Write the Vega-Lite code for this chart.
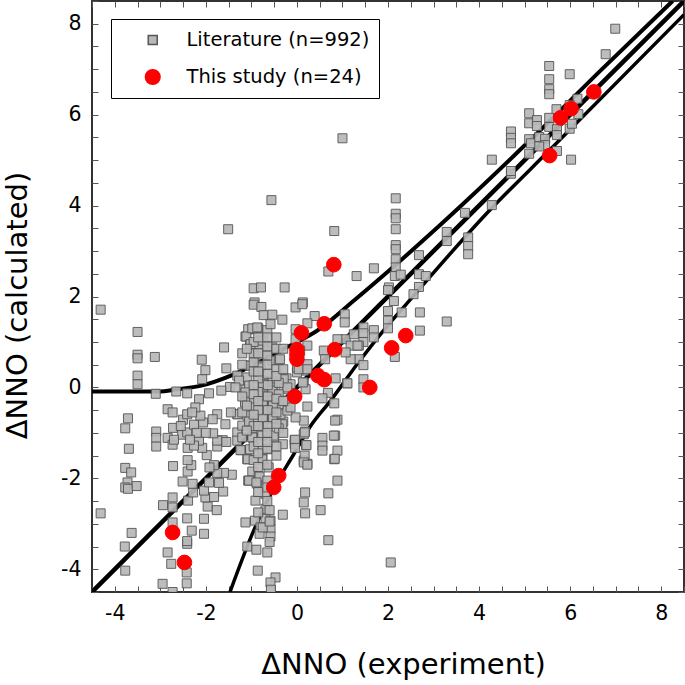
{"$schema":"https://vega.github.io/schema/vega-lite/v6.json","autosize":{"type":"none"},"padding":{"left":92,"top":1,"right":1,"bottom":93},"width":592,"height":591,"background":"white","config":{"view":{"stroke":"#333","strokeWidth":2},"font":"DejaVu Sans"},"layer":[{"data":{"values":[{"x":-4.5,"y":-4.5,"c":"1:1"},{"x":8.5,"y":8.5,"c":"1:1"},{"x":-4.5,"y":-0.09,"c":"up"},{"x":-3,"y":-0.09,"c":"up"},{"x":-2.7,"y":-0.05,"c":"up"},{"x":-2.1,"y":0.04,"c":"up"},{"x":-1.45,"y":0.26,"c":"up"},{"x":-0.9,"y":0.52,"c":"up"},{"x":-0.36,"y":0.81,"c":"up"},{"x":0.52,"y":1.3,"c":"up"},{"x":1.24,"y":1.9,"c":"up"},{"x":2.0,"y":2.55,"c":"up"},{"x":3.0,"y":3.44,"c":"up"},{"x":3.77,"y":4.15,"c":"up"},{"x":5.1,"y":5.42,"c":"up"},{"x":6.7,"y":7.0,"c":"up"},{"x":8.25,"y":8.5,"c":"up"},{"x":-1.47,"y":-4.5,"c":"lo"},{"x":-0.95,"y":-3.15,"c":"lo"},{"x":-0.5,"y":-2.2,"c":"lo"},{"x":-0.07,"y":-1.47,"c":"lo"},{"x":0.3,"y":-0.85,"c":"lo"},{"x":0.74,"y":-0.29,"c":"lo"},{"x":1.33,"y":0.52,"c":"lo"},{"x":1.9,"y":1.25,"c":"lo"},{"x":2.46,"y":1.9,"c":"lo"},{"x":4.15,"y":3.81,"c":"lo"},{"x":5.6,"y":5.27,"c":"lo"},{"x":8.5,"y":8.2,"c":"lo"}]},"mark":{"type":"line","color":"black","clip":true,"strokeCap":"butt","interpolate":"monotone"},"encoding":{"x":{"field":"x","type":"quantitative","scale":{"domain":[-4.5,8.5],"nice":false,"zero":false},"axis":{"orient":"top","title":null,"labels":false,"domain":false,"grid":false,"values":[-4.5,-4,-3.5,-3,-2.5,-2,-1.5,-1,-0.5,0,0.5,1,1.5,2,2.5,3,3.5,4,4.5,5,5.5,6,6.5,7,7.5,8,8.5],"tickSize":-6,"tickColor":"#555","tickWidth":1}},"y":{"field":"y","type":"quantitative","scale":{"domain":[-4.5,8.5],"nice":false,"zero":false},"axis":{"orient":"right","title":null,"labels":false,"domain":false,"grid":false,"values":[-4.5,-4,-3.5,-3,-2.5,-2,-1.5,-1,-0.5,0,0.5,1,1.5,2,2.5,3,3.5,4,4.5,5,5.5,6,6.5,7,7.5,8,8.5],"tickSize":-6,"tickColor":"#555","tickWidth":1}},"strokeWidth":{"field":"c","type":"nominal","scale":{"domain":["1:1","up","lo"],"range":[4.5,3.5,3.5]},"legend":null},"detail":{"field":"c"}}},{"data":{"values":[{"x":1.0,"y":5.48},{"x":-0.56,"y":4.12},{"x":-1.51,"y":3.48},{"x":0.82,"y":3.44},{"x":0.69,"y":2.55},{"x":1.69,"y":2.62},{"x":1.31,"y":2.45},{"x":-0.95,"y":2.18},{"x":-0.79,"y":2.2},{"x":-0.27,"y":2.2},{"x":0.13,"y":1.87},{"x":-0.93,"y":1.87},{"x":2.17,"y":4.16},{"x":2.17,"y":3.82},{"x":2.17,"y":3.72},{"x":2.17,"y":3.48},{"x":2.17,"y":3.13},{"x":2.17,"y":3.04},{"x":2.17,"y":2.82},{"x":2.17,"y":2.64},{"x":2.15,"y":2.45},{"x":2.28,"y":2.48},{"x":2.68,"y":2.91},{"x":2.68,"y":2.49},{"x":2.83,"y":2.45},{"x":2.68,"y":2.21},{"x":2.56,"y":2.05},{"x":2.02,"y":2.2},{"x":2.13,"y":1.9},{"x":2.0,"y":2.14},{"x":2.0,"y":1.68},{"x":2.0,"y":1.47},{"x":2.0,"y":1.3},{"x":2.3,"y":1.65},{"x":2.7,"y":1.65},{"x":2.7,"y":1.25},{"x":3.29,"y":1.45},{"x":1.69,"y":1.26},{"x":1.69,"y":1.1},{"x":1.46,"y":1.32},{"x":1.46,"y":1.19},{"x":1.46,"y":1.0},{"x":1.05,"y":1.61},{"x":1.05,"y":1.43},{"x":1.07,"y":1.06},{"x":1.18,"y":0.92},{"x":1.36,"y":0.92},{"x":1.36,"y":0.62},{"x":1.18,"y":0.62},{"x":1.46,"y":0.49},{"x":1.07,"y":0.77},{"x":2.15,"y":0.67},{"x":1.46,"y":0.18},{"x":1.46,"y":0.0},{"x":1.1,"y":0.09},{"x":6.99,"y":7.89},{"x":6.78,"y":7.33},{"x":5.99,"y":6.89},{"x":5.54,"y":7.07},{"x":5.54,"y":6.78},{"x":5.54,"y":6.56},{"x":5.54,"y":6.45},{"x":6.16,"y":6.35},{"x":6.18,"y":6.01},{"x":5.7,"y":6.12},{"x":5.99,"y":6.21},{"x":5.1,"y":6.03},{"x":5.1,"y":5.81},{"x":5.27,"y":5.88},{"x":5.27,"y":5.75},{"x":5.54,"y":5.93},{"x":5.54,"y":5.73},{"x":5.71,"y":5.68},{"x":5.71,"y":5.55},{"x":5.99,"y":5.69},{"x":6.04,"y":5.8},{"x":4.7,"y":5.63},{"x":4.7,"y":5.49},{"x":4.7,"y":5.37},{"x":5.1,"y":5.46},{"x":5.14,"y":5.37},{"x":5.1,"y":5.14},{"x":5.32,"y":5.51},{"x":5.45,"y":5.47},{"x":5.45,"y":5.33},{"x":5.32,"y":5.3},{"x":5.71,"y":5.2},{"x":6.02,"y":5.01},{"x":4.28,"y":5.01},{"x":4.7,"y":4.7},{"x":4.7,"y":4.76},{"x":3.69,"y":3.84},{"x":4.28,"y":4.01},{"x":3.29,"y":3.42},{"x":3.29,"y":3.22},{"x":3.76,"y":3.3},{"x":3.76,"y":3.11},{"x":3.76,"y":2.93},{"x":-4.31,"y":1.71},{"x":-3.5,"y":1.22},{"x":-3.5,"y":0.72},{"x":-3.5,"y":0.64},{"x":-3.12,"y":0.67},{"x":-3.5,"y":0.26},{"x":-3.5,"y":0.07},{"x":-3.1,"y":-0.14},{"x":-2.65,"y":-0.09},{"x":-2.41,"y":-0.13},{"x":-2.84,"y":-0.48},{"x":-2.73,"y":-0.55},{"x":-3.71,"y":-0.68},{"x":-3.77,"y":-0.9},{"x":-3.09,"y":-0.97},{"x":-3.09,"y":-1.11},{"x":-3.09,"y":-1.3},{"x":-2.84,"y":-1.11},{"x":-2.73,"y":-1.26},{"x":-3.69,"y":-1.35},{"x":-3.77,"y":-1.77},{"x":-3.64,"y":-1.87},{"x":-3.72,"y":-2.09},{"x":-3.77,"y":-2.2},{"x":-3.71,"y":-2.23},{"x":-3.52,"y":-2.17},{"x":-4.31,"y":-2.77},{"x":-3.63,"y":-3.2},{"x":-3.78,"y":-3.5},{"x":-3.77,"y":-4.03},{"x":-2.95,"y":-4.32},{"x":-2.73,"y":-4.5},{"x":-2.42,"y":-4.31},{"x":-2.42,"y":-4.07},{"x":-2.76,"y":-3.88},{"x":-2.84,"y":-3.63},{"x":-2.41,"y":-3.44},{"x":-2.41,"y":-3.38},{"x":-2.04,"y":-3.22},{"x":-2.31,"y":-3.15},{"x":-2.73,"y":-2.97},{"x":-2.41,"y":-2.88},{"x":-2.04,"y":-2.89},{"x":-2.94,"y":-2.59},{"x":-2.73,"y":-2.64},{"x":-2.73,"y":-2.42},{"x":-2.39,"y":-2.49},{"x":-1.96,"y":-2.62},{"x":-1.76,"y":-2.7},{"x":-2.01,"y":-2.42},{"x":-1.82,"y":-2.41},{"x":-1.62,"y":-2.29},{"x":-2.28,"y":-2.31},{"x":-2.04,"y":-2.27},{"x":-2.51,"y":-2.07},{"x":-2.29,"y":-2.12},{"x":-1.93,"y":-2.09},{"x":-1.71,"y":-2.1},{"x":-1.43,"y":-1.92},{"x":-1.6,"y":-1.88},{"x":-1.75,"y":-1.88},{"x":-1.82,"y":-1.71},{"x":-1.92,"y":-1.76},{"x":-2.72,"y":-1.73},{"x":-2.4,"y":-1.85},{"x":-2.32,"y":-1.71},{"x":-2.4,"y":-1.6},{"x":-1.98,"y":-1.49},{"x":-2.4,"y":-1.33},{"x":-2.08,"y":-1.33},{"x":-1.75,"y":-1.3},{"x":-1.63,"y":-1.16},{"x":-1.75,"y":-1.17},{"x":-1.84,"y":-1.01},{"x":-2.15,"y":-1.17},{"x":-2.26,"y":-1.28},{"x":-2.52,"y":-1.04},{"x":-2.41,"y":-0.99},{"x":-2.72,"y":-0.89},{"x":-2.5,"y":-0.71},{"x":-2.41,"y":-0.59},{"x":-2.26,"y":-0.82},{"x":-2.06,"y":-0.77},{"x":-2.12,"y":-0.62},{"x":-1.75,"y":-0.59},{"x":-1.57,"y":-0.81},{"x":-1.31,"y":-0.59},{"x":-1.31,"y":-0.99},{"x":-1.31,"y":-1.17},{"x":-1.22,"y":-1.38},{"x":-1.03,"y":-1.36},{"x":-1.09,"y":-1.58},{"x":-0.98,"y":-1.85},{"x":-1.07,"y":-2.05},{"x":-0.84,"y":-1.96},{"x":-0.87,"y":-2.12},{"x":-0.62,"y":-1.76},{"x":-0.65,"y":-1.36},{"x":-0.76,"y":-1.58},{"x":-0.91,"y":-2.49},{"x":-0.69,"y":-2.34},{"x":-0.69,"y":-2.67},{"x":-0.69,"y":-2.89},{"x":-1.13,"y":-2.97},{"x":-0.92,"y":-2.93},{"x":-0.8,"y":-3.08},{"x":-0.58,"y":-3.11},{"x":-0.82,"y":-3.22},{"x":-0.58,"y":-3.28},{"x":-1.09,"y":-3.5},{"x":-0.89,"y":-3.57},{"x":-0.65,"y":-3.63},{"x":-0.86,"y":-4.03},{"x":-0.47,"y":-4.18},{"x":-0.58,"y":-4.29},{"x":-0.57,"y":-4.45},{"x":-0.31,"y":-2.8},{"x":0.18,"y":-2.31},{"x":0.15,"y":-2.53},{"x":0.18,"y":-2.77},{"x":0.69,"y":-2.33},{"x":0.52,"y":-2.7},{"x":0.69,"y":-3.36},{"x":0.89,"y":-2.05},{"x":0.23,"y":-1.68},{"x":0.15,"y":-1.61},{"x":0.2,"y":-1.27},{"x":-0.05,"y":-1.25},{"x":-0.05,"y":-1.16},{"x":-0.31,"y":-1.25},{"x":0.15,"y":-1.03},{"x":0.18,"y":-0.97},{"x":0.15,"y":-0.73},{"x":-0.03,"y":-0.66},{"x":0.23,"y":-0.42},{"x":0.56,"y":-1.11},{"x":0.56,"y":-1.28},{"x":0.56,"y":-1.39},{"x":0.84,"y":-1.06},{"x":0.82,"y":-1.58},{"x":0.89,"y":-1.39},{"x":0.89,"y":-0.71},{"x":0.84,"y":-0.73},{"x":0.82,"y":-0.35},{"x":0.68,"y":-0.12},{"x":0.56,"y":-0.24},{"x":1.11,"y":0.09},{"x":0.85,"y":0.2},{"x":2.06,"y":-3.85},{"x":-0.74,"y":0.15},{"x":-0.74,"y":0.04},{"x":-0.74,"y":-0.07},{"x":-0.74,"y":-0.18},{"x":-0.74,"y":-0.29},{"x":-0.74,"y":-0.4},{"x":-0.74,"y":-0.55},{"x":-0.74,"y":-0.7},{"x":-0.74,"y":-0.84},{"x":-0.53,"y":0.15},{"x":-0.53,"y":0.0},{"x":-0.53,"y":-0.15},{"x":-0.53,"y":-0.29},{"x":-0.53,"y":-0.44},{"x":-0.53,"y":-0.69},{"x":-1.03,"y":0.48},{"x":-1.13,"y":-0.04},{"x":-1.09,"y":0.22},{"x":-1.31,"y":0.26},{"x":-1.55,"y":0.42},{"x":-1.47,"y":0.01},{"x":-1.66,"y":-0.07},{"x":-1.93,"y":-0.13},{"x":-2.15,"y":-0.26},{"x":-2.23,"y":-0.44},{"x":-2.01,"y":0.38},{"x":-2.09,"y":0.61},{"x":-2.08,"y":0.18},{"x":-1.6,"y":0.88},{"x":-1.13,"y":1.12},{"x":-0.95,"y":1.28},{"x":-0.85,"y":1.3},{"x":-0.95,"y":1.82},{"x":-0.78,"y":1.77},{"x":-0.73,"y":1.59},{"x":-0.54,"y":1.6},{"x":-0.32,"y":1.49},{"x":-0.65,"y":1.26},{"x":-0.58,"y":1.39},{"x":-0.89,"y":1.3},{"x":-1.07,"y":1.28},{"x":-0.74,"y":1.03},{"x":-1.03,"y":0.95},{"x":-0.84,"y":0.95},{"x":-0.54,"y":0.88},{"x":-0.91,"y":0.7},{"x":-0.65,"y":0.8},{"x":-0.54,"y":0.59},{"x":-0.8,"y":0.48},{"x":-0.4,"y":0.6},{"x":-0.23,"y":0.2},{"x":-0.29,"y":-0.04},{"x":-0.95,"y":-0.33},{"x":-1.14,"y":-0.33},{"x":-0.95,"y":-0.44},{"x":-1.2,"y":-0.84},{"x":-1.09,"y":-0.62},{"x":-0.98,"y":-0.92},{"x":-0.87,"y":-0.73},{"x":-0.97,"y":-1.1},{"x":-0.76,"y":-1.06},{"x":-0.5,"y":-1.1},{"x":-0.3,"y":-0.75},{"x":-0.36,"y":-0.59},{"x":-0.21,"y":-0.51},{"x":-0.03,"y":1.76},{"x":0.12,"y":1.83},{"x":0.39,"y":1.57},{"x":0.23,"y":1.41},{"x":-0.03,"y":1.28},{"x":0.89,"y":1.06},{"x":1.25,"y":1.17},{"x":1.33,"y":0.92},{"x":0.59,"y":0.81},{"x":0.62,"y":0.62},{"x":0.23,"y":0.92},{"x":-0.03,"y":1.06},{"x":0.07,"y":0.81},{"x":0.15,"y":0.37},{"x":0.23,"y":0.51},{"x":0.15,"y":0.11},{"x":0.19,"y":-0.04},{"x":-0.14,"y":0.07},{"x":-0.25,"y":-0.29},{"x":-0.14,"y":-0.44},{"x":-0.4,"y":-0.37},{"x":-0.32,"y":-0.81},{"x":0.0,"y":0.33},{"x":0.0,"y":0.44},{"x":-1.3,"y":-0.59},{"x":-1.24,"y":-1.38},{"x":-0.98,"y":-1.1},{"x":-1.08,"y":-1.58},{"x":-0.76,"y":-1.39},{"x":-0.65,"y":-1.35},{"x":-0.76,"y":-1.58},{"x":-0.82,"y":-1.96},{"x":-1.05,"y":-2.05},{"x":-0.89,"y":-2.09},{"x":-0.75,"y":-3.08},{"x":-0.58,"y":-2.93},{"x":-0.75,"y":-0.37},{"x":-0.75,"y":-0.51},{"x":-0.75,"y":-0.67},{"x":-0.53,"y":-0.4},{"x":-0.53,"y":-0.67},{"x":-0.51,"y":-1.06},{"x":0.17,"y":-0.99},{"x":-0.04,"y":-1.15},{"x":-0.04,"y":-1.33},{"x":0.21,"y":-1.27},{"x":0.17,"y":-1.5},{"x":0.15,"y":-1.65},{"x":0.23,"y":-1.7},{"x":0.81,"y":-1.06},{"x":0.83,"y":-1.57},{"x":-1.11,"y":1.12},{"x":-0.98,"y":1.3},{"x":-0.87,"y":1.32},{"x":-1.02,"y":0.95},{"x":-0.8,"y":1.03},{"x":-1.04,"y":0.48},{"x":-0.8,"y":0.44},{"x":-0.37,"y":0.62},{"x":0.04,"y":0.4},{"x":0.23,"y":0.4},{"x":0.13,"y":0.11},{"x":-1.05,"y":0.04},{"x":-1.27,"y":0.15},{"x":-0.54,"y":-0.07},{"x":-0.75,"y":0.07},{"x":-0.29,"y":0.18},{"x":-0.21,"y":0.0},{"x":-1.13,"y":-0.11},{"x":-1.35,"y":0.0},{"x":-0.64,"y":0.3},{"x":-0.64,"y":0.05},{"x":-0.64,"y":-0.2},{"x":-0.64,"y":-0.5},{"x":-0.64,"y":-0.85},{"x":-0.85,"y":0.2},{"x":-0.85,"y":-0.1},{"x":-0.85,"y":-0.5},{"x":-0.4,"y":0.1},{"x":-0.4,"y":-0.15},{"x":-0.4,"y":-0.9},{"x":-0.45,"y":-1.3},{"x":-0.95,"y":-0.15},{"x":-1.05,"y":-0.75},{"x":-1.45,"y":-0.55},{"x":-1.85,"y":-0.7},{"x":-2.0,"y":-1.0},{"x":-2.3,"y":-0.55},{"x":-2.55,"y":-0.85},{"x":-2.2,"y":-1.0},{"x":-1.55,"y":-1.2},{"x":-2.35,"y":-1.15},{"x":-2.7,"y":-1.15},{"x":-0.95,"y":1.0},{"x":-0.95,"y":0.75},{"x":-0.95,"y":0.55},{"x":-0.95,"y":0.35},{"x":-0.95,"y":0.05},{"x":-0.95,"y":-0.6},{"x":-0.95,"y":-0.85},{"x":-0.95,"y":-1.3},{"x":-0.95,"y":-1.6},{"x":-0.85,"y":1.1},{"x":-0.85,"y":0.75},{"x":-0.85,"y":0.35},{"x":-0.85,"y":-0.3},{"x":-0.85,"y":-0.85},{"x":-0.85,"y":-1.2},{"x":-0.85,"y":-1.45},{"x":-0.85,"y":-1.75},{"x":-0.85,"y":-2.3},{"x":-0.85,"y":-2.75},{"x":-0.65,"y":1.1},{"x":-0.65,"y":0.9},{"x":-0.65,"y":0.7},{"x":-0.65,"y":0.5},{"x":-0.65,"y":-1.0},{"x":-0.65,"y":-1.2},{"x":-0.65,"y":-1.7},{"x":-0.65,"y":-2.05},{"x":-0.65,"y":-2.2},{"x":-0.65,"y":-2.5},{"x":-0.45,"y":1.1},{"x":-0.45,"y":0.85},{"x":-0.45,"y":0.4},{"x":-0.45,"y":0.25},{"x":-0.45,"y":-0.25},{"x":-0.45,"y":-0.55},{"x":-0.45,"y":-0.8},{"x":-0.45,"y":-1.5},{"x":-1.2,"y":0.5},{"x":-1.2,"y":0.75},{"x":-1.2,"y":-0.2},{"x":-1.2,"y":-0.55},{"x":-1.2,"y":-1.1},{"x":-0.3,"y":0.85},{"x":-0.3,"y":0.4},{"x":-0.3,"y":-0.3},{"x":-0.3,"y":-1.0},{"x":-1.1,"y":0.85},{"x":-1.1,"y":-0.4},{"x":-1.1,"y":-0.95},{"x":-0.6,"y":-3.4},{"x":-0.6,"y":-2.7},{"x":-0.6,"y":-2.95}]},"mark":{"type":"point","filled":true,"strokeWidth":1,"opacity":0.92,"clip":true},"encoding":{"x":{"field":"x","type":"quantitative","scale":{"domain":[-4.5,8.5],"nice":false,"zero":false},"axis":{"orient":"bottom","title":"ΔNNO (experiment)","titleFontSize":29,"titleFontWeight":"normal","titleColor":"black","titleX":311,"titleY":58,"labelFontSize":20.5,"labelColor":"black","labelPadding":17,"labelExpr":"datum.value % 2 == 0 ? toString(datum.value) : ''","labelOverlap":false,"labelFlush":false,"domain":false,"grid":false,"values":[-4.5,-4,-3.5,-3,-2.5,-2,-1.5,-1,-0.5,0,0.5,1,1.5,2,2.5,3,3.5,4,4.5,5,5.5,6,6.5,7,7.5,8,8.5],"tickSize":-6,"tickColor":"#555","tickWidth":1}},"y":{"field":"y","type":"quantitative","scale":{"domain":[-4.5,8.5],"nice":false,"zero":false},"axis":{"orient":"left","title":"ΔNNO (calculated)","titleFontSize":29,"titleFontWeight":"normal","titleColor":"black","titleX":-60,"titleY":304,"labelFontSize":20.5,"labelColor":"black","labelPadding":17,"labelExpr":"datum.value % 2 == 0 ? toString(datum.value) : ''","labelOverlap":false,"domain":false,"grid":false,"values":[-4.5,-4,-3.5,-3,-2.5,-2,-1.5,-1,-0.5,0,0.5,1,1.5,2,2.5,3,3.5,4,4.5,5,5.5,6,6.5,7,7.5,8,8.5],"tickSize":-6,"tickColor":"#555","tickWidth":1}},"fill":{"datum":"Literature (n=992)","type":"nominal","scale":{"domain":["Literature (n=992)","This study (n=24)"],"range":["#b8b8b8","#ff0000"]},"legend":{"title":null,"orient":"none","legendX":19,"legendY":18,"fillColor":"white","strokeColor":"black","padding":9,"labelFontSize":19.5,"labelColor":"black","labelOffset":24,"labelLimit":400,"rowPadding":13,"clipHeight":24,"symbolOffset":23,"symbolOpacity":1,"encoding":{"legend":{"update":{"strokeWidth":{"value":2}}}}}},"stroke":{"datum":"Literature (n=992)","type":"nominal","scale":{"domain":["Literature (n=992)","This study (n=24)"],"range":["#555555","#ff0000"]}},"shape":{"datum":"Literature (n=992)","type":"nominal","scale":{"domain":["Literature (n=992)","This study (n=24)"],"range":["square","circle"]}},"size":{"datum":"Literature (n=992)","type":"nominal","scale":{"domain":["Literature (n=992)","This study (n=24)"],"range":[81,215]}}}},{"data":{"values":[{"x":-2.73,"y":-3.19},{"x":-2.47,"y":-3.85},{"x":-0.51,"y":-2.2},{"x":-0.4,"y":-1.94},{"x":-0.05,"y":-0.2},{"x":0.0,"y":0.83},{"x":0.0,"y":0.72},{"x":0.0,"y":0.62},{"x":0.1,"y":1.2},{"x":0.6,"y":1.4},{"x":0.81,"y":2.7},{"x":0.83,"y":0.83},{"x":0.46,"y":0.26},{"x":0.6,"y":0.17},{"x":1.6,"y":0.0},{"x":2.08,"y":0.87},{"x":2.39,"y":1.14},{"x":5.55,"y":5.1},{"x":5.79,"y":5.93},{"x":6.02,"y":6.13},{"x":6.52,"y":6.5}]},"mark":{"type":"point","filled":true,"strokeWidth":1,"opacity":1,"clip":true},"encoding":{"x":{"field":"x","type":"quantitative","axis":null},"y":{"field":"y","type":"quantitative","axis":null},"fill":{"datum":"This study (n=24)","type":"nominal"},"stroke":{"datum":"This study (n=24)","type":"nominal"},"shape":{"datum":"This study (n=24)","type":"nominal"},"size":{"datum":"This study (n=24)","type":"nominal"}}}],"resolve":{"axis":{"x":"independent","y":"independent"}}}
